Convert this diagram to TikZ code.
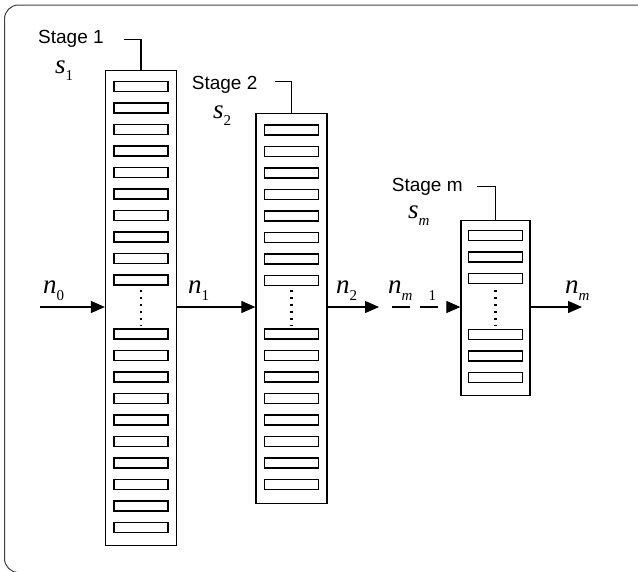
\documentclass[tikz,border=0pt]{standalone}
\usepackage{fontspec}
\setmainfont{Liberation Serif}
\setsansfont{Liberation Sans}
\usetikzlibrary{arrows.meta,positioning}

\newcommand{\varsub}[2]{{\fontsize{27}{29}\selectfont\itshape #1}\raisebox{-7pt}{\fontsize{15}{16}\selectfont #2}}

\tikzset{
  stagebox/.style={draw, line width=1.3pt, minimum width=71pt, anchor=north, inner sep=0pt},
  slot/.style={draw, line width=1.2pt, minimum width=54pt, minimum height=10pt, inner sep=0pt},
  flow/.style={line width=1.2pt, -{Triangle[length=14pt,width=12pt]}},
  leader/.style={line width=1.1pt},
  stagelabel/.style={font=\sffamily\fontsize{19}{22}\selectfont, anchor=base west, inner sep=0pt},
  varlabel/.style={anchor=base west, inner sep=0pt},
  dots/.style={line width=2.2pt, dash pattern=on 2.2pt off 4.8pt}
}

\begin{document}
\begin{tikzpicture}[x=1pt, y=-1pt]
  \useasboundingbox (0,0) rectangle (638,571);

  % Frame
  \draw[rounded corners=14pt, line width=1pt, black!75] (4.5,5) rectangle (652,572.5);

  % Stage columns
  \node[stagebox, minimum height=475pt] (s1) at (141,70) {};
  \node[stagebox, minimum height=390pt] (s2) at (291.5,113) {};
  \node[stagebox, minimum width=69pt, minimum height=175pt] (sm) at (495.5,220) {};

  % Slots
  \foreach \k in {0,...,9} {
    \node[slot] (s1a\k) at (141,{86.5+21.5*\k}) {};
    \node[slot] (s1b\k) at (141,{334+21.5*\k}) {};
  }
  \foreach \k in {0,...,7} {
    \node[slot] (s2a\k) at (291.5,{130+21.5*\k}) {};
    \node[slot] (s2b\k) at (291.5,{334+21.5*\k}) {};
  }
  \foreach \k in {0,...,2} {
    \node[slot] (sma\k) at (495.5,{235.5+21.5*\k}) {};
    \node[slot] (smb\k) at (495.5,{334.5+21.5*\k}) {};
  }

  % Dotted gaps
  \draw[dots] (s1a9.south |- 0,290) -- (s1b0.north |- 0,326);
  \draw[dots] (s2a7.south |- 0,290) -- (s2b0.north |- 0,326);
  \draw[dots] (sma2.south |- 0,290) -- (smb0.north |- 0,326);

  % Stage labels
  \node[stagelabel] (st1) at (38,43.3) {Stage 1};
  \node[stagelabel] (st2) at (191.7,89.3) {Stage 2};
  \node[stagelabel] (stm) at (391.7,191.7) {Stage m};
  \coordinate (l1) at (124,39.5);
  \coordinate (l2) at (275,81.7);
  \coordinate (lm) at (477,186.7);
  \draw[leader] (l1) -| (s1.north);
  \draw[leader] (l2) -| (s2.north);
  \draw[leader] (lm) -| (sm.north);

  \node[varlabel] (v1) at (55,73.3) {\varsub{s}{1}};
  \node[varlabel] (v2) at (213,118.3) {\varsub{s}{2}};
  \node[varlabel] (vm) at (408,218.3) {\varsub{s}{\itshape m}};

  % Flow
  \coordinate (in) at (40,307);
  \coordinate (mid) at (379,307);
  \coordinate (dash) at (392,307);
  \coordinate (out) at (582,307);
  \draw[flow] (in) -- (in -| s1.west);
  \draw[flow] (in -| s1.east) -- (in -| s2.west);
  \draw[flow] (in -| s2.east) -- (mid);
  \draw[flow, dash pattern=on 18pt off 10pt] (dash) -- (dash -| sm.west);
  \draw[flow] (in -| sm.east) -- (out);

  \node[varlabel] (n0) at (43,293.3) {\varsub{n}{0}};
  \node[varlabel] (n1) at (188,293.3) {\varsub{n}{1}};
  \node[varlabel] (n2) at (336,293.3) {\varsub{n}{2}};
  \node[varlabel] (nm1) at (388,293.3) {\varsub{n}{\itshape m\hspace{16pt}\upshape 1}};
  \node[varlabel] (nm) at (565,293.3) {\varsub{n}{\itshape m}};
\end{tikzpicture}
\end{document}
